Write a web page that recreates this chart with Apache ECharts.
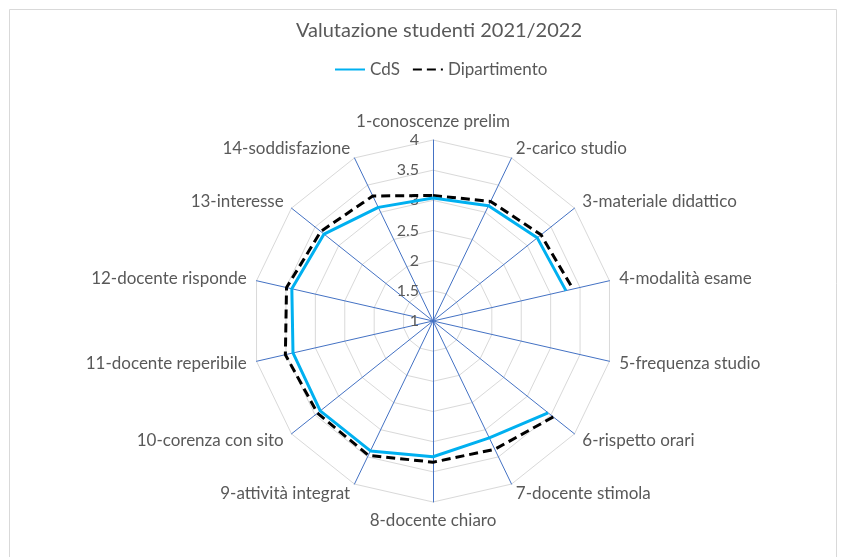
<!DOCTYPE html>
<html>
<head>
<meta charset="utf-8">
<script src="https://cdn.jsdelivr.net/npm/echarts@6/dist/echarts.min.js"></script>
<style>
  html, body { margin: 0; padding: 0; background: #fff; }
  #chart { width: 846px; height: 557px; }
</style>
</head>
<body>
<div id="chart"></div>
<script>
// indicatori del questionario (in senso orario dall'alto)
const categories = [
  '1-conoscenze prelim', '2-carico studio', '3-materiale didattico', '4-modalità esame',
  '5-frequenza studio', '6-rispetto orari', '7-docente stimola', '8-docente chiaro',
  '9-attività integrat', '10-corenza con sito', '11-docente reperibile', '12-docente risponde',
  '13-interesse', '14-soddisfazione'
];
// null = valore mancante (gap nella linea)
const cdsValues = [3.04, 3.12, 3.21, 3.26, null, 3.44, 3.15, 3.25, 3.39, 3.39, 3.38, 3.40, 3.31, 3.09];
const dipValues = [3.08, 3.20, 3.29, 3.38, null, 3.55, 3.36, 3.34, 3.47, 3.45, 3.51, 3.49, 3.38, 3.30];
const scaleMin = 1;
const scaleMax = 4;
const scaleStep = 0.5;

const FONT = 'Lato';
const TEXT = '#595959';
const CENTER = [433, 321];
const RADIUS = 181;

// il radar di echarts gira in senso antiorario: inverto l'ordine
const indicators = [categories[0]].concat(categories.slice(1).reverse())
  .map(name => ({ name: name, min: scaleMin, max: scaleMax }));

// dati per il polare: [raggio, angolo], chiudo il giro ripetendo il primo punto
function toPolar(values) {
  const out = values.map((v, i) => [v === null ? '-' : v, i]);
  out.push([values[0], values.length]);
  return out;
}

const chart = echarts.init(document.getElementById('chart'), null, { renderer: 'canvas' });

chart.setOption({
  backgroundColor: '#fff',
  animation: false,
  textStyle: { fontFamily: FONT },
  title: {
    text: 'Valutazione studenti 2021/2022',
    left: 434,
    textAlign: 'center',
    top: 16,
    textStyle: { fontFamily: FONT, fontSize: 20, fontWeight: 'normal', color: TEXT }
  },
  legend: {
    top: 56,
    left: 329,
    itemWidth: 30,
    itemHeight: 10,
    itemGap: 12,
    itemStyle: { color: 'rgba(0,0,0,0)', borderWidth: 0 },
    textStyle: { fontFamily: FONT, fontSize: 17, color: TEXT },
    data: ['CdS', 'Dipartimento']
  },
  graphic: [{
    type: 'rect',
    shape: { x: 9.5, y: 9.5, width: 827, height: 560 },
    style: { fill: 'none', stroke: '#d9d9d9', lineWidth: 1 },
    silent: true,
    z: -1
  }],
  radar: {
    center: CENTER,
    radius: RADIUS,
    startAngle: 90,
    splitNumber: (scaleMax - scaleMin) / scaleStep,
    indicator: indicators,
    axisName: { color: TEXT, fontSize: 17, fontFamily: FONT },
    nameGap: 10,
    axisLine: { lineStyle: { color: '#4472C4', width: 1 } },
    splitLine: { lineStyle: { color: '#d9d9d9', width: 1 } },
    splitArea: { show: false },
    axisLabel: { show: false },
    axisTick: { show: false }
  },
  polar: {
    center: CENTER,
    radius: RADIUS
  },
  angleAxis: {
    type: 'value',
    min: 0,
    max: categories.length,
    startAngle: 90,
    clockwise: true,
    axisLine: { show: false },
    axisTick: { show: false },
    axisLabel: { show: false },
    splitLine: { show: false }
  },
  radiusAxis: {
    type: 'value',
    min: scaleMin,
    max: scaleMax,
    interval: scaleStep,
    axisLine: { show: false },
    axisTick: { show: false },
    splitLine: { show: false },
    axisLabel: { color: TEXT, fontSize: 16, fontFamily: FONT, margin: 14 }
  },
  series: [
    {
      name: 'CdS',
      type: 'line',
      coordinateSystem: 'polar',
      data: toPolar(cdsValues),
      symbol: 'none',
      connectNulls: false,
      lineStyle: { color: '#00B0F0', width: 3 },
      itemStyle: { color: '#00B0F0' },
      z: 3
    },
    {
      name: 'Dipartimento',
      type: 'line',
      coordinateSystem: 'polar',
      data: toPolar(dipValues),
      symbol: 'none',
      connectNulls: false,
      lineStyle: { color: '#000', width: 3, type: [9, 5] },
      itemStyle: { color: '#000' },
      z: 2
    }
  ]
});
</script>
</body>
</html>
